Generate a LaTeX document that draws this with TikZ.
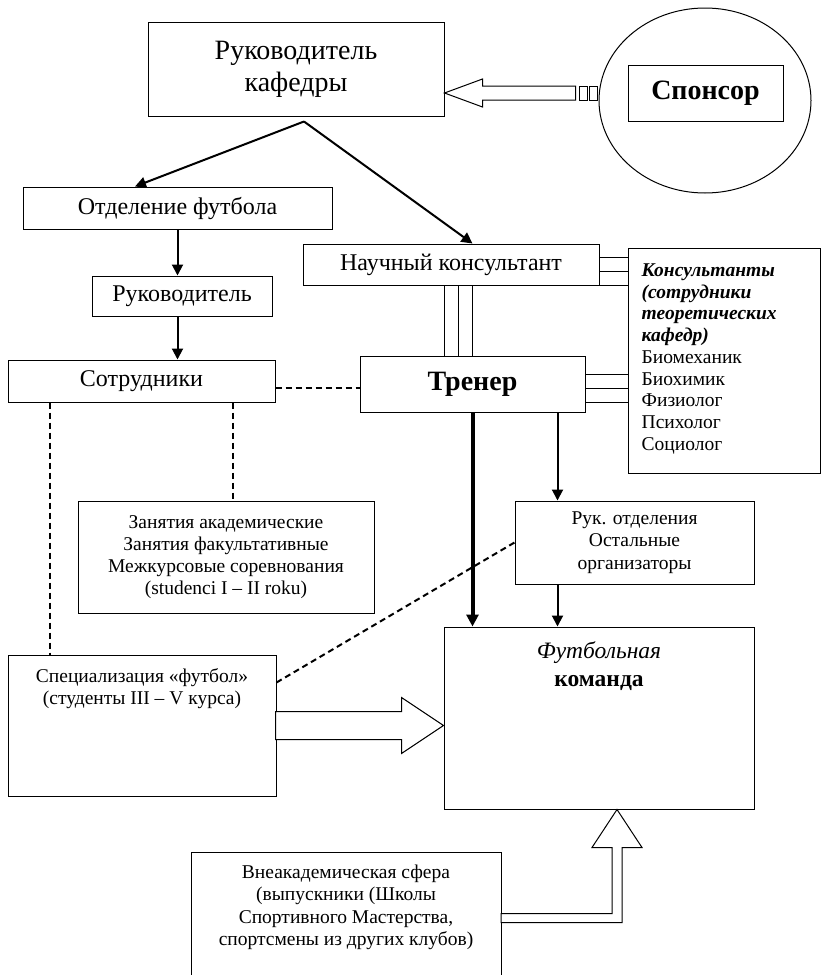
\documentclass[tikz,border=0pt]{standalone}
\usepackage{fontspec}
\setmainfont{Liberation Serif}
\usetikzlibrary{arrows.meta,shapes.geometric,calc}
\begin{document}
\begin{tikzpicture}[x=1pt,y=-1pt,
  box/.style={draw, line width=1pt, rectangle, inner sep=0pt, align=center},
  txt/.style={inner sep=0pt, align=center},
  arr/.style={line width=2pt, -{Triangle[length=11pt,width=11pt]}},
  thickarr/.style={line width=4pt, -{Triangle[length=12pt,width=12pt]}},
  dsh/.style={line width=2pt, dash pattern=on 6pt off 4pt},
  tri/.style={line width=1pt},
  hollow/.style={draw, line width=1pt, fill=white, line join=miter},
  fbig/.style={font=\fontsize{28}{32}\selectfont},
  fmid/.style={font=\fontsize{24}{27}\selectfont},
  fbold/.style={font=\fontsize{28}{32}\selectfont\bfseries},
  fsmall/.style={font=\fontsize{19.5}{22.2}\selectfont}
]
\useasboundingbox (0,0) rectangle (821,975);
\clip (0,0) rectangle (821,975);

% nodes
\node[box, fbig, minimum width=296pt, minimum height=94pt] (head) at (296,69) {Руководитель\\кафедры};
\node[draw, ellipse, line width=1pt, minimum width=212pt, minimum height=185pt, inner sep=0pt] (ell) at (705,100.5) {};
\node[box, fbold, minimum width=155pt, minimum height=56pt] (spons) at (705.5,93) {Спонсор};
\node[box, fmid, minimum width=309pt, minimum height=42pt] (otd) at (177.5,208) {Отделение футбола};
\node[box, fmid, minimum width=180pt, minimum height=40pt] (ruk) at (182,296) {Руководитель};
\node[box, fmid, minimum width=267pt, minimum height=42pt] (sotr) at (141.5,381) {Сотрудники};
\node[box, fmid, minimum width=296pt, minimum height=41pt] (nauch) at (451,264.5) {Научный консультант};
\node[box, fbold, minimum width=225pt, minimum height=56pt] (trener) at (472.5,384) {Тренер};
\node[box, minimum width=192pt, minimum height=225pt] (kons) at (724,360.5) {};
\node[txt, anchor=north west, align=left, font=\fontsize{19.5}{21.75}\selectfont] (konstxt) at ($(kons.north west)+(14,16)$)
  {\textbf{\textit{Консультанты}}\\\textbf{\textit{(сотрудники}}\\\textbf{\textit{теоретических}}\\\textbf{\textit{кафедр)}}\\Биомеханик\\Биохимик\\Физиолог\\Психолог\\Социолог};
\node[box, fsmall, minimum width=296pt, minimum height=112pt] (zan) at (226,557)
  {Занятия академические\\Занятия факультативные\\Межкурсовые соревнования\\(studenci I – II roku)};
\node[box, minimum width=268pt, minimum height=141pt] (spec) at (142,725.5) {};
\node[txt, fsmall, anchor=north] (spectxt) at ($(spec.north)+(0,13.5)$) {Специализация «футбол»\\(студенты III – V курса)};
\node[box, fsmall, minimum width=239pt, minimum height=83pt] (rukotd) at (634.5,542.5) {Рук. отделения\\Остальные\\организаторы};
\node[box, minimum width=310pt, minimum height=182pt] (kom) at (599,718) {};
\node[txt, anchor=north, font=\fontsize{23.5}{28}\selectfont] (komtxt) at ($(kom.north)+(0,14.5)$) {\textit{Футбольная}\\\textbf{команда}};
\node[box, minimum width=310pt, minimum height=148pt] (vne) at (346,926) {};
\node[txt, fsmall, anchor=north] (vnetxt) at ($(vne.north)+(0,13.5)$) {Внеакадемическая сфера\\(выпускники (Школы\\Спортивного Мастерства,\\спортсмены из других клубов)};

% sponsor hollow striped arrow
\coordinate (sp) at (head.east |- spons.center);
\draw[hollow] (sp) -- ++(38,-14) -- ++(0,7) -- ++(93,0) -- ++(0,14) -- ++(-93,0) -- ++(0,7) -- cycle;
\draw[line width=1pt] ($(sp)+(135,-7)$) rectangle ++(8,14);
\draw[line width=1pt] ($(sp)+(145,-7)$) rectangle ++(8,14);

% solid arrows
\coordinate (hs) at ($(head.south)+(8,5)$);
\draw[arr] (hs) -- ($(otd.north)+(-42.5,0)$);
\draw[arr] (hs) -- (trener.north |- nauch.north);
\draw[arr] (otd.south) -- (otd.south |- ruk.north);
\draw[arr] (otd.south |- ruk.south) -- (otd.south |- sotr.north);
\draw[thickarr] (trener.south) -- (trener.south |- kom.north);
\coordinate (ta) at ($(trener.south east)+(-28,0)$);
\draw[arr] (ta) -- (ta |- rukotd.north);
\draw[arr] (ta |- rukotd.south) -- (ta |- kom.north);

% triple line links
\foreach \d in {0,14,28}{
  \coordinate (t1) at ($(trener.north)+(-\d,0)$);
  \draw[tri] (t1) -- (t1 |- nauch.south);
  \coordinate (t2) at ($(nauch.south east)+(0,-\d)$);
  \draw[tri] (t2) -- (t2 -| kons.west);
}
\foreach \d in {-10,4,18}{
  \coordinate (t3) at ($(trener.east)+(0,\d)$);
  \draw[tri] (t3) -- (t3 -| kons.west);
}

% dashed links
\coordinate (d1) at ($(sotr.east)+(0,6.5)$);
\draw[dsh] (d1) -- (trener.west |- d1);
\coordinate (d2) at ($(sotr.south west)+(42,0)$);
\draw[dsh] (d2) -- (d2 |- spec.north);
\coordinate (d3) at ($(sotr.south west)+(225,0)$);
\draw[dsh] (d3) -- (d3 |- zan.north);
\draw[dsh] ($(spec.north east)+(0,28)$) -- (rukotd.west);

% hollow arrow spec -> kom
\coordinate (hp) at (kom.west |- spec.east);
\draw[hollow] (hp) -- ++(-42,-28) -- ++(0,14) -- ++(-126,0) -- ++(0,28) -- ++(126,0) -- ++(0,14) -- cycle;

% bent hollow arrow vne -> kom
\coordinate (bp) at ($(kom.south)+(18,0)$);
\draw[hollow] (bp) -- ++(-25,38) -- ++(20,0) -- ++(0,66) -- ++(-111,0) -- ++(0,9) -- ++(121,0) -- ++(0,-75) -- ++(20,0) -- cycle;
\end{tikzpicture}
\end{document}
